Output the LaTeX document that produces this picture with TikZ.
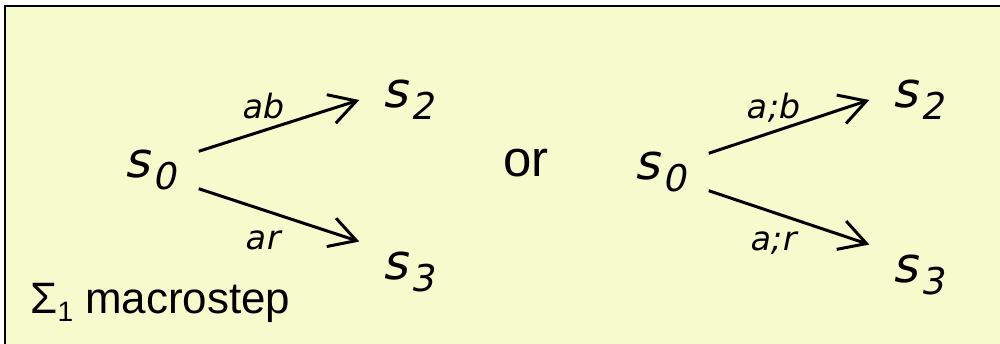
\documentclass[tikz,border=0pt]{standalone}
\usepackage{fontspec}
\setmainfont{Liberation Sans}
\newfontfamily\statefont[FakeSlant=0.2]{DejaVu Sans}
\usetikzlibrary{arrows.meta}
\definecolor{boxfill}{RGB}{245,251,204}
\newcommand{\idx}[1]{\kern1.5pt\lower7pt\hbox{\fontsize{21}{21}\selectfont #1}}

\begin{document}
\begin{tikzpicture}[x=0.02cm,y=-0.02cm,
  st/.style={font=\statefont\fontsize{28}{30}\selectfont,inner sep=0pt,outer sep=13pt},
  lbl/.style={font=\statefont\fontsize{19}{22}\selectfont,inner sep=0pt},
  txt/.style={font=\fontsize{29}{32}\selectfont,inner sep=0pt},
  tr/.style={line width=1.7pt,-{Straight Barb[length=15pt,width=17pt,line width=1.7pt]}}]
\useasboundingbox (0,0) rectangle (1000,344);
\clip (0,0) rectangle (1000,344);
\draw[line width=1pt,fill=boxfill] (5,6) rectangle (1010,350);
% first macrostep
\node[st] (s0a) at (150,170) {s\idx{0}};
\node[st] (s2a) at (408,100) {s\idx{2}};
\node[st] (s3a) at (408,272) {s\idx{3}};
\draw[tr] (s0a.21) -- (s2a.west);
\draw[tr] (s0a.-21) -- (s3a.148);
\node[lbl] (ab) at (262,106) {ab};
\node[lbl] (ar) at (262,240) {ar};
\node[txt,anchor=base] (or) at (526,177) {or};
% second macrostep
\node[st] (s0b) at (660,172) {s\idx{0}};
\node[st] (s2b) at (918,100) {s\idx{2}};
\node[st] (s3b) at (918,275) {s\idx{3}};
\draw[tr] (s0b.21) -- (s2b.west);
\draw[tr] (s0b.-21) -- (s3b.148);
\node[lbl] (ab2) at (772,108) {a;b};
\node[lbl] (ar2) at (772,243) {a;r};
\node[font=\fontsize{25}{28}\selectfont,inner sep=0pt,anchor=base west] (sig) at (30,313)
   {Σ\lower5pt\hbox{\fontsize{16}{16}\selectfont 1} macrostep};
\end{tikzpicture}
\end{document}
